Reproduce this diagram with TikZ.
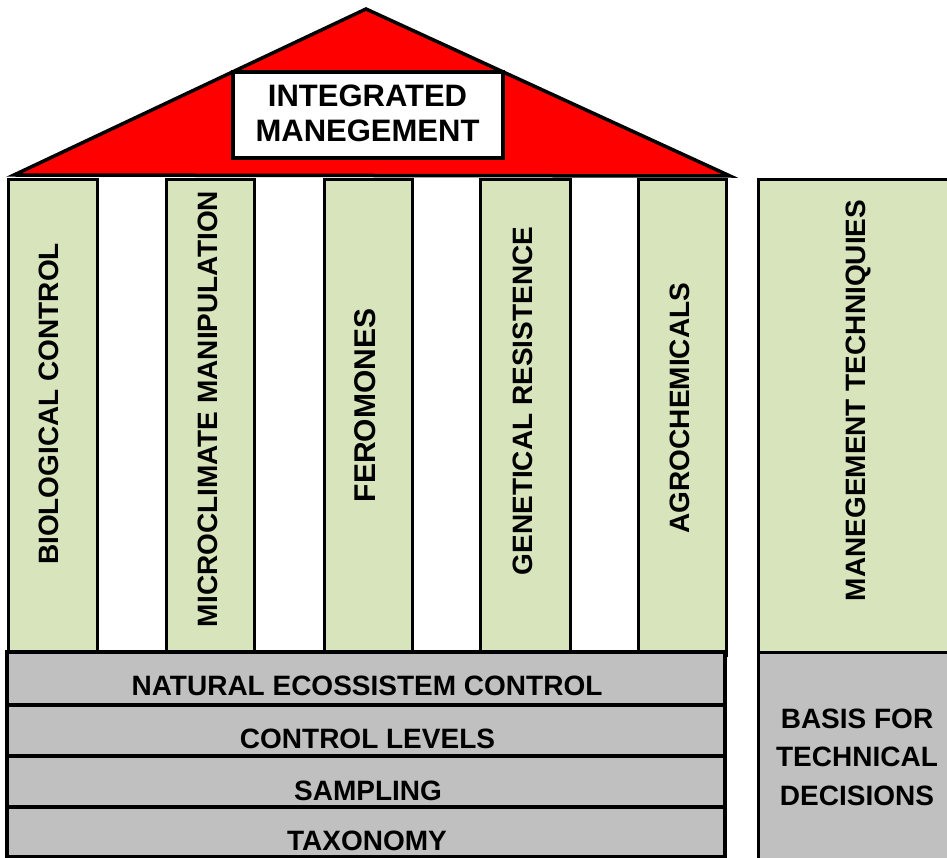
\documentclass[tikz,border=0pt]{standalone}
\usepackage{fontspec}
\setmainfont{Liberation Sans}
\definecolor{pillargreen}{HTML}{D8E4BC}
\definecolor{basegray}{HTML}{C0C0C0}
\definecolor{roofred}{HTML}{FF0000}
\begin{document}
\begin{tikzpicture}[x=1pt,y=-1pt,
  pillar/.style={draw=black,line width=3pt,fill=pillargreen},
  layer/.style={draw=black,line width=3.5pt,fill=basegray},
  lbl/.style={inner sep=0pt,text depth=0pt,font=\fontsize{28}{38.5}\selectfont\bfseries},
  vlbl/.style={lbl,rotate=90},
  titlebox/.style={draw=black,line width=3.5pt,fill=white}]
\useasboundingbox (0,0) rectangle (947,858);
% right column
\fill[pillargreen] (758,180) rectangle (952,652);
\fill[basegray] (758,652) rectangle (952,862);
\draw[line width=3pt] (758,862) -- (758,180) -- (952,180);
\draw[line width=3pt] (758,652) -- (952,652);
% pillars
\foreach \a/\b in {8/97,166/254,324/412,480/570,638/726}{
  \draw[pillar] (\a,180) rectangle (\b,655);
}
% roof
\draw[line width=3.5pt,fill=roofred,line join=miter] (14,175) -- (366,9) -- (730,176) -- cycle;
\draw[titlebox] (233,72) rectangle (503,158);
\node[lbl,align=center,font=\fontsize{31}{35}\selectfont\bfseries] (title) at (367.5,113.5) {INTEGRATED\\MANEGEMENT};
% base layers
\draw[layer] (7,652) rectangle (725,705);
\draw[layer] (7,705) rectangle (725,756);
\draw[layer] (7,756) rectangle (725,807);
\draw[layer] (7,807) rectangle (725,857);
\draw[line width=4.5pt] (7,652) rectangle (725,857);
\node[lbl] (nat) at (367,685.5) {NATURAL ECOSSISTEM CONTROL};
\node[lbl] (lev) at (367.5,739) {CONTROL LEVELS};
\node[lbl] (sam) at (368,791) {SAMPLING};
\node[lbl] (tax) at (367,841) {TAXONOMY};
% vertical labels
\node[vlbl] (bio) at (49,404) {BIOLOGICAL CONTROL};
\node[vlbl] (mic) at (207.5,409) {MICROCLIMATE MANIPULATION};
\node[vlbl,font=\fontsize{30}{38.5}\selectfont\bfseries] (fer) at (365,405.5) {FEROMONES};
\node[vlbl] (gen) at (523,401) {GENETICAL RESISTENCE};
\node[vlbl] (agr) at (680,408) {AGROCHEMICALS};
\node[vlbl] (tec) at (856,400.5) {MANEGEMENT TECHNIQUIES};
\node[lbl,align=center] (basis) at (857,757) {BASIS FOR\\TECHNICAL\\DECISIONS};
\end{tikzpicture}
\end{document}
